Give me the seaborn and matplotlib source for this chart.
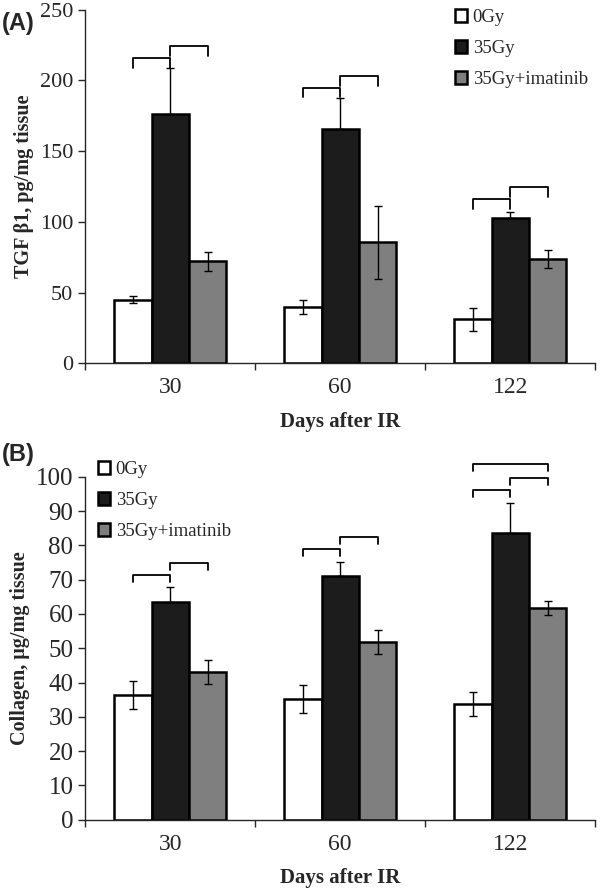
import numpy as np
import pandas as pd
import matplotlib
matplotlib.use("Agg")
import matplotlib.pyplot as plt
import seaborn as sns

# ---- Data ----
days = ["30", "60", "122"]
groups = ["0Gy", "35Gy", "35Gy+imatinib"]

tgf_mean = {"0Gy": [45, 39.5, 31], "35Gy": [176, 165.5, 102.5], "35Gy+imatinib": [72, 85.5, 73.5]}
tgf_err = {"0Gy": [2.5, 5, 8], "35Gy": [33, 22, 4.5], "35Gy+imatinib": [6.5, 26, 6.5]}
tgf_brackets = [[216, 224.5], [195, 203], [116, 124.5]]   # (0Gy-35Gy, 35Gy-imatinib)

col_mean = {"0Gy": [36.4, 35.3, 33.8], "35Gy": [63.6, 71.1, 83.7], "35Gy+imatinib": [43.1, 51.9, 61.8]}
col_err = {"0Gy": [4.1, 4.1, 3.5], "35Gy": [4.4, 4.1, 8.7], "35Gy+imatinib": [3.5, 3.5, 2.0]}
col_brackets = [[71.4, 74.9], [79, 82.5], [96.2, 99.7, 103.8]]   # last one: 0Gy-imatinib

colors = ["white", "#1c1c1c", "#7f7f7f"]

sns.set_style("ticks")
plt.rcParams["font.family"] = ["Liberation Serif", "DejaVu Serif"]


def make_df(means):
    rows = []
    for g in groups:
        for d, v in zip(days, means[g]):
            rows.append({"Day": d, "Group": g, "Value": v})
    return pd.DataFrame(rows)


def draw_panel(ax, means, errs, brackets, drop, ylim, yticks, ylabel, ytick_size, legend_xy):
    df = make_df(means)
    sns.barplot(data=df, x="Day", y="Value", hue="Group", order=days, hue_order=groups,
                palette=colors, edgecolor="black", linewidth=1.8, width=0.66, gap=0,
                errorbar=None, ax=ax)
    centers = {}
    for g, cont in zip(groups, ax.containers):
        xs = [b.get_x() + b.get_width() / 2 for b in cont]
        centers[g] = xs
        e = np.array(errs[g])
        if g == "35Gy":
            yerr = [np.zeros_like(e), e]  # one-sided
        else:
            yerr = [e, e]
        ax.errorbar(xs, means[g], yerr=yerr, fmt="none", ecolor="black",
                    elinewidth=1, capsize=3, capthick=1, zorder=3)

    # significance brackets
    pairs = [("0Gy", "35Gy"), ("35Gy", "35Gy+imatinib"), ("0Gy", "35Gy+imatinib")]
    for i, hs in enumerate(brackets):
        for h, (a, b) in zip(hs, pairs):
            x1, x2 = centers[a][i], centers[b][i]
            ax.plot([x1, x1, x2, x2], [h - drop, h, h, h - drop], color="black", lw=1.3,
                    clip_on=False)

    ax.set_xlim(-0.5, 2.5)
    ax.set_ylim(*ylim)
    ax.set_yticks(yticks)
    ax.tick_params(axis="y", labelsize=ytick_size, length=5, width=1)
    ax.set_xticks([0, 1, 2])
    ax.set_xticklabels(days, fontsize=17)
    ax.tick_params(axis="x", which="major", length=0, pad=10)
    ax.set_xticks([-0.5, 0.5, 1.5, 2.5], minor=True)
    ax.tick_params(axis="x", which="minor", length=5, width=1)
    ax.set_ylabel(ylabel, fontsize=14.5, fontweight="bold")
    ax.set_xlabel("Days after IR", fontsize=15, fontweight="bold", labelpad=10)
    for s in ["top", "right"]:
        ax.spines[s].set_visible(False)
    for s in ["left", "bottom"]:
        ax.spines[s].set_linewidth(1)

    handles, labels = ax.get_legend_handles_labels()
    for hnd in handles:
        hnd.set_linewidth(1.8)
    ax.legend(handles, labels, loc="upper left", bbox_to_anchor=legend_xy,
              bbox_transform=ax.figure.transFigure, frameon=False, fontsize=13.5,
              handlelength=0.65, handleheight=0.65, handletextpad=0.3,
              labelspacing=0.75, borderaxespad=0.0, borderpad=0.0)


fig = plt.figure(figsize=(6, 8.88), dpi=100)
axA = fig.add_axes([0.142, 0.591, 0.85, 0.398])
axB = fig.add_axes([0.142, 0.077, 0.85, 0.386])

draw_panel(axA, tgf_mean, tgf_err, tgf_brackets, 7, (0, 250), range(0, 251, 50),
           "TGF β1, pg/mg tissue", 16, (0.758, 0.990))
draw_panel(axB, col_mean, col_err, col_brackets, 2, (0, 100), range(0, 101, 10),
           "Collagen, μg/mg tissue", 18, (0.163, 0.481))

fig.text(0.003, 0.986, "(A)", fontsize=17, fontweight="bold", family="Liberation Sans", va="top")
fig.text(0.003, 0.501, "(B)", fontsize=17, fontweight="bold", family="Liberation Sans", va="top")

fig.savefig("out.png", dpi=100)
